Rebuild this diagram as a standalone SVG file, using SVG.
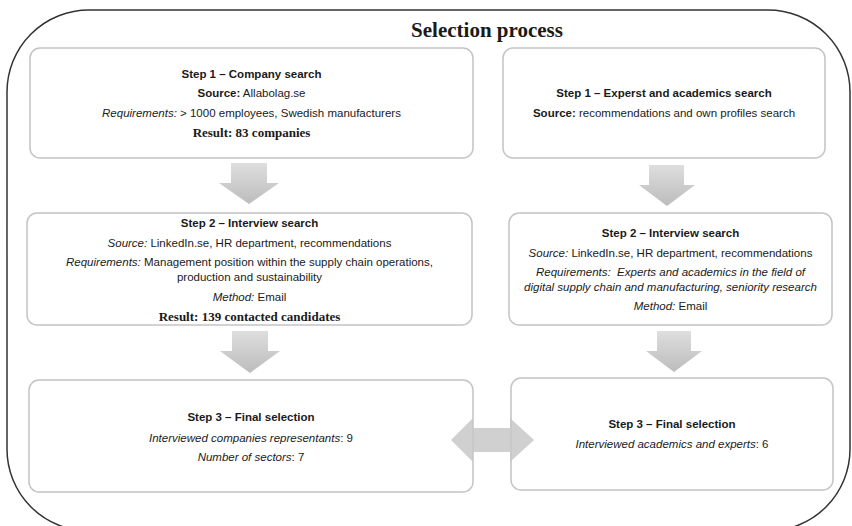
<svg xmlns="http://www.w3.org/2000/svg" width="852" height="526" viewBox="0 0 852 526">
<style>
.frame{fill:none;stroke:#333;stroke-width:1.5}
.box{fill:#fff;stroke:#c4c4c4;stroke-width:1.5}
.t{font-family:"Liberation Sans",Arial,sans-serif;font-size:11.5px;fill:#1a1a1a;text-anchor:middle}
.b{font-weight:bold}
.i{font-style:italic}
.r{font-family:"Liberation Serif","Times New Roman",serif;font-size:13px;font-weight:bold;fill:#1a1a1a;text-anchor:middle}
.title{font-family:"Liberation Serif","Times New Roman",serif;font-size:21px;font-weight:bold;fill:#1a1a1a;text-anchor:middle}
.arr{fill:url(#g)}
.dbl{fill:#c8c8c8;fill-opacity:0.85}
</style>
<defs>
<linearGradient id="g" x1="0" y1="0" x2="0" y2="1">
<stop offset="0" stop-color="#dedede"/>
<stop offset="1" stop-color="#bcbcbc"/>
</linearGradient>
</defs>
<rect class="frame" x="7" y="10" width="843" height="521" rx="82" ry="82"/>
<text class="title" x="487" y="37">Selection process</text>
<g id="left-step1">
<rect class="box" x="30" y="48" width="443" height="110" rx="10"/>
<text class="t b" x="251.5" y="78">Step 1 – Company search</text>
<text class="t" x="251.5" y="97"><tspan class="b">Source:</tspan> Allabolag.se</text>
<text class="t" x="251.5" y="117"><tspan class="i">Requirements:</tspan> &gt; 1000 employees, Swedish manufacturers</text>
<text class="r" x="251.5" y="137">Result: 83 companies</text>
</g>
<g id="right-step1">
<rect class="box" x="503" y="48" width="322" height="110" rx="10"/>
<text class="t b" x="664" y="97">Step 1 – Experst and academics search</text>
<text class="t" x="664" y="117"><tspan class="b">Source:</tspan> recommendations and own profiles search</text>
</g>
<g id="left-step2">
<rect class="box" x="27" y="213" width="445" height="112" rx="10"/>
<text class="t b" x="249.5" y="227">Step 2 – Interview search</text>
<text class="t" x="249.5" y="247"><tspan class="i">Source:</tspan> LinkedIn.se, HR department, recommendations</text>
<text class="t" x="249.5" y="266"><tspan class="i">Requirements:</tspan> Management position within the supply chain operations,</text>
<text class="t" x="249.5" y="281">production and sustainability</text>
<text class="t" x="249.5" y="301"><tspan class="i">Method:</tspan> Email</text>
<text class="r" x="249.5" y="321">Result: 139 contacted candidates</text>
</g>
<g id="right-step2">
<rect class="box" x="509" y="213" width="323" height="112" rx="10"/>
<text class="t b" x="670.5" y="237">Step 2 – Interview search</text>
<text class="t" x="670.5" y="257"><tspan class="i">Source:</tspan> LinkedIn.se, HR department, recommendations</text>
<text class="t i" x="670.5" y="276" xml:space="preserve">Requirements:  Experts and academics in the field of</text>
<text class="t i" x="670.5" y="291">digital supply chain and manufacturing, seniority research</text>
<text class="t" x="670.5" y="310"><tspan class="i">Method:</tspan> Email</text>
</g>
<g id="left-step3">
<rect class="box" x="29" y="380" width="444" height="112" rx="10"/>
<text class="t b" x="251" y="421">Step 3 – Final selection</text>
<text class="t" x="251" y="442"><tspan class="i">Interviewed companies representants</tspan>: 9</text>
<text class="t" x="251" y="461"><tspan class="i">Number of sectors</tspan>: 7</text>
</g>
<g id="right-step3">
<rect class="box" x="511" y="378" width="322" height="112" rx="10"/>
<text class="t b" x="672" y="428">Step 3 – Final selection</text>
<text class="t" x="672" y="448"><tspan class="i">Interviewed academics and experts</tspan>: 6</text>
</g>
<g id="connectors">
<polygon class="arr" points="231,163 267,163 267,183 279,183 249,204 219,183 231,183"/>
<polygon class="arr" points="649,165 684,165 684,185 695,185 667,206 639,185 649,185"/>
<polygon class="arr" points="232,331 268,331 268,351 280,351 250,373 220,351 232,351"/>
<polygon class="arr" points="657,331 691,331 691,351 702,351 674,372 646,351 657,351"/>
<polygon class="dbl" points="451,440 473,418 473,428 510,428 510,418 534,440 510,462 510,452 473,452 473,462"/>
</g>
</svg>
